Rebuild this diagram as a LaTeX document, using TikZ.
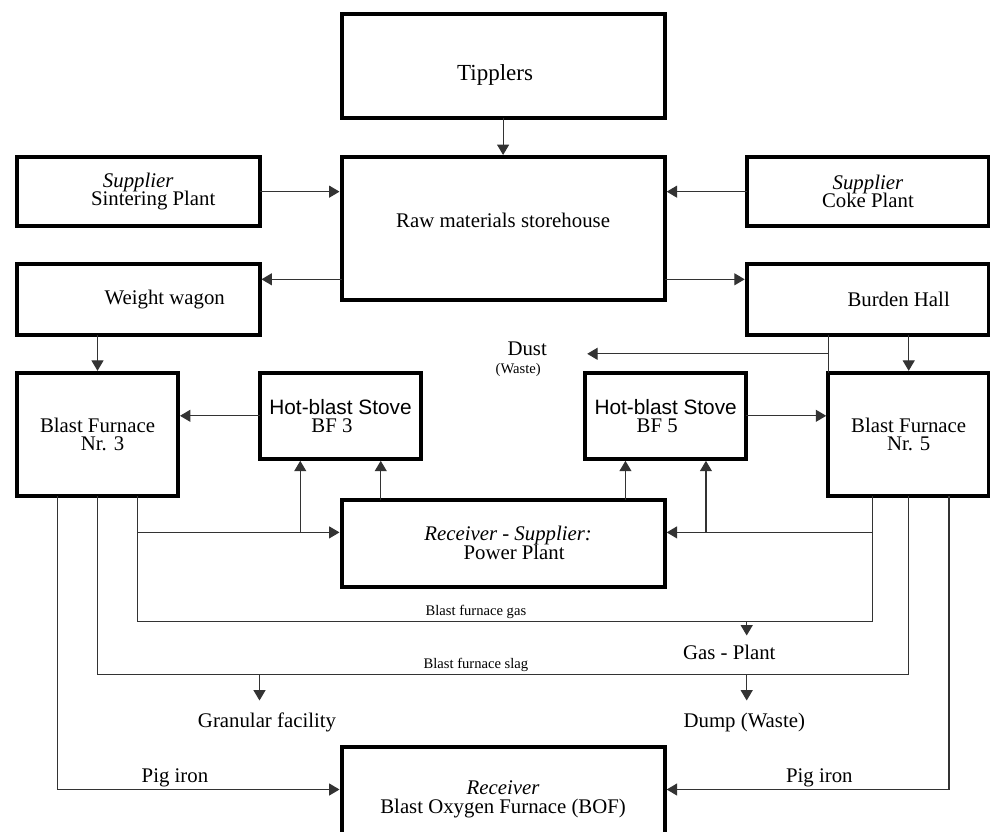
\documentclass[tikz,border=0pt]{standalone}
\usepackage{fontspec}
\setmainfont{Liberation Serif}
\setsansfont{Liberation Sans}
\usetikzlibrary{positioning,calc,arrows.meta}

\begin{document}
\begin{tikzpicture}[
    box/.style = {draw, line width=2pt, outer sep=0pt, inner sep=2pt, align=center,
                  font={\fontsize{10.4}{9.2}\selectfont\lineskiplimit=-20pt\relax}},
    wide/.style = {box, minimum width=161.6pt},
    side/.style = {box, minimum width=121.25pt, minimum height=35.5pt},
    furnace/.style = {box, minimum width=80.5pt, minimum height=61.5pt},
    stove/.style = {box, minimum width=80.5pt, minimum height=43pt},
    flow/.style = {-{Triangle[length=5.2pt,width=6pt]}, shorten >=1pt, line width=.55pt, draw=black!80},
    pipe/.style = {line width=.55pt, draw=black!80},
    flowtext/.style = {inner sep=1pt, font=\fontsize{10.4}{12}\selectfont},
    smalltext/.style = {inner sep=1pt, font=\fontsize{7.3}{8}\selectfont}
    ]
    \useasboundingbox (0,0) rectangle (495pt,-415.5pt);

    \node[wide, minimum height=71.25pt] (raw) at (251.55pt,-114.125pt) {\raisebox{4pt}[\height][\depth]{Raw materials storehouse}};
    \node[wide, minimum height=51.75pt, above=19.75pt of raw, font=\fontsize{11.5}{12}\selectfont] (tipplers) {\raisebox{-4.5pt}[\height][\depth]{Tipplers}\hspace*{8pt}};
    \node[side, minimum height=34.65pt, left=41pt of raw.north west, anchor=north east] (sinter) {\textit{Supplier}\\\hspace*{15pt}Sintering Plant};
    \node[side, minimum height=34.65pt, right=41pt of raw.north east, anchor=north west] (coke) {\textit{Supplier}\\Coke Plant};
    \node[side, below=18.75pt of sinter] (weight) {\hspace*{26.5pt}Weight wagon};
    \node[side, below=18.75pt of coke] (burden) {\hspace*{30.7pt}Burden Hall};
    \node[furnace, below=19pt of weight.south west, anchor=north west] (bf3) {Blast Furnace\\\hspace*{5pt}Nr. 3};
    \node[furnace, below=19pt of burden.south east, anchor=north east] (bf5) {Blast Furnace\\Nr. 5};
    \node[stove, right=41pt of bf3.north east, anchor=north west] (hbs3) {{\sffamily Hot-blast Stove}\\BF 3\hspace*{8.5pt}};
    \node[stove, left=41pt of bf5.north west, anchor=north east] (hbs5) {{\sffamily Hot-blast Stove}\\BF 5\hspace*{8.5pt}};
    \node[wide, minimum height=43.5pt, below=100pt of raw] (power) {\hspace*{5pt}\textit{Receiver - Supplier:}\\\hspace*{11pt}Power Plant};
    \node[wide, minimum height=53pt, below=80pt of power] (bof) {\textit{Receiver}\\Blast Oxygen Furnace (BOF)};

    % raw materials
    \draw[flow] (tipplers) -- (raw);
    \draw[flow] (sinter.east) -- (sinter.east -| raw.west);
    \draw[flow] (coke.west) -- (coke.west -| raw.east);
    \coordinate (wwin) at ([yshift=10pt]weight.east);
    \coordinate (bhin) at ([yshift=10pt]burden.west);
    \draw[flow] (wwin -| raw.west) -- (wwin);
    \draw[flow] (bhin -| raw.east) -- (bhin);
    \draw[flow] (bf3.north |- weight.south) -- (bf3.north);
    \draw[flow] (bf5.north |- burden.south) -- (bf5.north);

    % dust
    \coordinate (dj) at ($(burden.south -| bf5.north west)!.5!(bf5.north west)$);
    \coordinate (dustend) at (dj -| hbs5.west);
    \draw[pipe] (burden.south -| bf5.north west) -- (bf5.north west);
    \draw[flow] (dj) -- (dustend);
    \node[flowtext, left=18pt of dustend, yshift=2.75pt] (dust) {Dust};
    \node[smalltext, below=1.5pt of dust, xshift=-4.5pt] (waste) {(Waste)};

    % hot blast
    \draw[flow] (hbs3.west) -- (hbs3.west -| bf3.east);
    \draw[flow] (hbs5.east) -- (hbs5.east -| bf5.west);
    \coordinate (h3a) at ($(hbs3.south)!.5!(hbs3.south west)$);
    \coordinate (h3b) at ($(hbs3.south)!.5!(hbs3.south east)$);
    \coordinate (h5a) at ($(hbs5.south)!.5!(hbs5.south west)$);
    \coordinate (h5b) at ($(hbs5.south)!.5!(hbs5.south east)$);
    \draw[flow] (h3b |- power.north) -- (h3b);
    \draw[flow] (h5a |- power.north) -- (h5a);

    % blast furnace gas
    \coordinate (g3) at ($(bf3.south)!.5!(bf3.south east)$);
    \coordinate (g5) at ($(bf5.south)!.45!(bf5.south west)$);
    \coordinate (pin) at ([yshift=5.3pt]power.west);
    \coordinate (pout) at ([yshift=5.3pt]power.east);
    \coordinate (gasrow) at ([yshift=-17.5pt]power.south);
    \draw[pipe] (g3) |- (gasrow) -| (g5);
    \draw[flow] (g3 |- pin) -- (pin);
    \draw[flow] (h3a |- pin) -- (h3a);
    \draw[flow] (g5 |- pout) -- (pout);
    \draw[flow] (h5b |- pout) -- (h5b);
    \draw[flow] (gasrow -| burden.west) -- ++(0,-8pt) coordinate (gastip);
    \node[flowtext] (gasplant) at ([xshift=-8.7pt,yshift=-7.5pt]gastip) {Gas - Plant};
    \node[smalltext, above] (gaslabel) at ([xshift=-13.6pt]gasrow) {Blast furnace gas};

    % slag
    \coordinate (slagrow) at ([yshift=-26.5pt]gasrow);
    \draw[pipe] (bf3.south) |- (slagrow) -| (bf5.south);
    \draw[flow] (slagrow -| weight.east) -- ++(0,-14pt) coordinate (granulartip);
    \draw[flow] (slagrow -| burden.west) -- ++(0,-14pt) coordinate (dumptip);
    \node[flowtext] (granular) at ([xshift=3.75pt,yshift=-10pt]granulartip) {Granular facility};
    \node[flowtext] (dump) at ([xshift=-1.2pt,yshift=-10pt]dumptip) {Dump (Waste)};
    \node[smalltext, above] (slaglabel) at ([xshift=-13.6pt]slagrow) {Blast furnace slag};

    % pig iron
    \coordinate (p3) at ($(bf3.south)!.5!(bf3.south west)$);
    \coordinate (p5) at ($(bf5.south)!.5!(bf5.south east)$);
    \coordinate (bofin) at ([yshift=5pt]bof.west);
    \coordinate (bofout) at ([yshift=5pt]bof.east);
    \draw[flow] (p3) |- node[flowtext, above, pos=.707] (pig3) {Pig iron} (bofin);
    \draw[flow] (p5) |- node[flowtext, above, pos=.728] (pig5) {Pig iron} (bofout);
\end{tikzpicture}
\end{document}
